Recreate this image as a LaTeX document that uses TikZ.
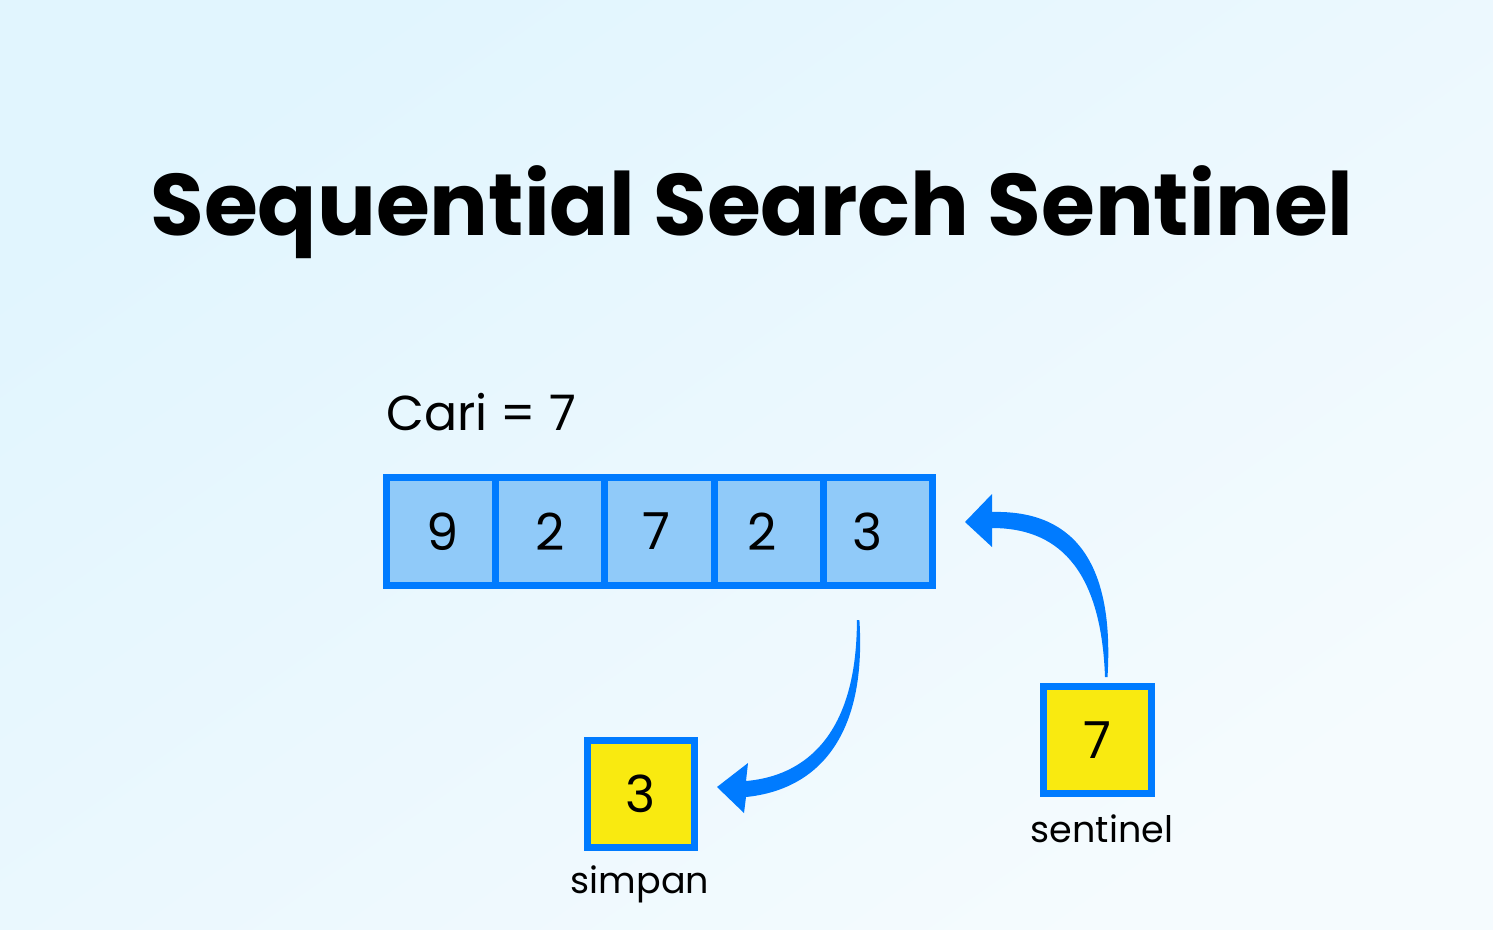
\documentclass[tikz,border=0pt]{standalone}
\usepackage{fontspec}
\setmainfont{Poppins}
\usetikzlibrary{calc}
\definecolor{bgA}{HTML}{E1F5FE}
\definecolor{bgB}{HTML}{F5FBFE}
\definecolor{arrblue}{HTML}{007BFF}
\definecolor{cellfill}{HTML}{90CAF9}
\definecolor{boxyellow}{HTML}{F9EA10}
\tikzset{
  cell/.style={draw=arrblue, line width=7pt, fill=cellfill, minimum width=109.2pt, minimum height=108pt, inner sep=0pt, font=\fontsize{51}{60}\selectfont},
  ybox/.style={draw=arrblue, line width=7pt, fill=boxyellow, minimum width=107.5pt, minimum height=107pt, inner sep=0pt, font=\fontsize{51}{60}\selectfont},
  lbl/.style={anchor=base, inner sep=0pt, font=\fontsize{36.5}{42}\selectfont},
  tapered/.style={fill=arrblue},
}
\begin{document}
\begin{tikzpicture}[x=1pt,y=-1pt]
\shade[top color=bgA, bottom color=bgB, shading angle=35] (0,0) rectangle (1493,929);
\useasboundingbox (0,0) rectangle (1493,929);
% title
\node[anchor=base, inner sep=0pt, font=\bfseries\fontsize{87.3}{100}\selectfont] (title) at (752,235) {Sequential Search Sentinel};
\node[anchor=base west, inner sep=0pt, font=\fontsize{49}{56}\selectfont] (cari) at (386,430) {Cari = 7};
% array
\node[cell] (c1) at (441.1,531.5) {\hspace*{3pt}9};
\node[cell] (c2) at (550.3,531.5) {2};
\node[cell] (c3) at (659.5,531.5) {7\hspace*{6pt}};
\node[cell] (c4) at (768.7,531.5) {2\hspace*{14pt}};
\node[cell] (c5) at (877.9,531.5) {3\hspace*{20pt}};
% boxes
\node[ybox] (simpan) at (641,794) {3};
\node[lbl] (simpanlbl) at (640,893) {simpan};
\node[ybox] (sentinel) at (1097.5,740) {7};
\node[lbl] (sentinellbl) at (1102,842) {sentinel};
% arrow from c5 to simpan
\coordinate (a1s) at ($(c5.south)+(-20,31)$);
\fill[tapered] ($(a1s)+(-1,0)$) .. controls (857,735) and (805,776) .. (746,781)
   -- (748,763) -- (717,787) -- (744,813) -- (746,797)
   .. controls (815,790) and (867,740) .. ($(a1s)+(1.5,0)$) -- cycle;
% arrow from sentinel to c5
\coordinate (a2s) at ($(sentinel.north)+(8.5,-6)$);
\fill[tapered] ($(a2s)+(1.5,0)$) .. controls (1115,555) and (1068,510) .. (992,512)
   -- (992,494) -- (965,522) -- (992,547) -- (992,528)
   .. controls (1055,528) and (1101,565) .. ($(a2s)+(-1,0)$) -- cycle;
\end{tikzpicture}
\end{document}
